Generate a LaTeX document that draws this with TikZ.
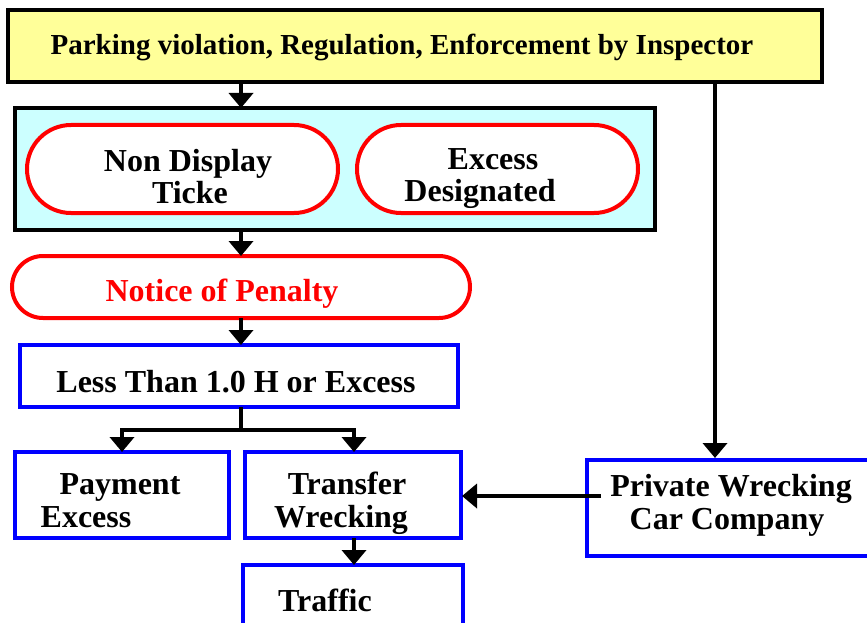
\documentclass[tikz,border=0pt]{standalone}
\usepackage{fontspec}
\setmainfont{Liberation Serif}
\usetikzlibrary{arrows.meta}
\definecolor{paleyellow}{RGB}{255,255,153}
\definecolor{palecyan}{RGB}{204,255,255}
\definecolor{boxblue}{RGB}{0,0,255}
\definecolor{boxred}{RGB}{255,0,0}
\tikzset{
  flow/.style={line width=4pt,-{Triangle[width=24pt,length=15pt]}},
  plain/.style={line width=4pt},
  bluebox/.style={draw=boxblue,line width=4.5pt,fill=white},
  redpill/.style={draw=boxred,line width=4pt,fill=white},
  lbl/.style={inner sep=0pt,anchor=base,font=\bfseries\fontsize{32}{36}\selectfont},
}
\begin{document}
\begin{tikzpicture}[x=1pt,y=-1pt]
\useasboundingbox (0,0) rectangle (867,623);

% top: enforcement
\draw[line width=3.5pt,fill=paleyellow] (8,10) rectangle (822,82);
\coordinate (topL) at (241,82);
\coordinate (topR) at (715,82);
\node[lbl,font=\bfseries\fontsize{29}{32}\selectfont] (top) at (402,55)
  {Parking violation, Regulation, Enforcement by Inspector};

% group of the two violation kinds
\draw[line width=4.5pt,fill=palecyan] (15,108) rectangle (655,230);
\coordinate (grpT) at (241,108);
\coordinate (grpB) at (241,230);
\draw[redpill,rounded corners=44pt] (27,125) rectangle (338,213);
\draw[redpill,rounded corners=44pt] (357,125) rectangle (638,213);
\node[lbl] (nd1) at (188,171) {Non Display};
\node[lbl] (nd2) at (190,203) {Ticke};
\node[lbl] (ex1) at (493,169) {Excess};
\node[lbl] (ex2) at (480,201) {Designated};

% notice of penalty
\draw[redpill,rounded corners=31pt] (12,256) rectangle (470,318);
\coordinate (npT) at (241,256);
\coordinate (npB) at (241,318);
\node[lbl,text=boxred] (np) at (222,301) {Notice of Penalty};

% less than 1.0 H
\draw[bluebox] (20,345) rectangle (458,407);
\coordinate (ltT) at (241,345);
\coordinate (ltB) at (241,407);
\node[lbl] (lt) at (236,392) {Less Than 1.0 H or Excess};

% branches
\draw[bluebox] (15,452) rectangle (229,538);
\node[lbl] (pay1) at (120,494) {Payment};
\node[lbl] (pay2) at (86,527) {Excess};
\draw[bluebox] (245,452) rectangle (461,538);
\node[lbl] (tr1) at (347,494) {Transfer};
\node[lbl] (tr2) at (341,527) {Wrecking};
\draw[bluebox] (243,565) rectangle (463,650);
\node[lbl] (tf) at (325,611) {Traffic};
\draw[bluebox] (587,460) rectangle (900,556);
\node[lbl] (pw1) at (731,496) {Private Wrecking};
\node[lbl] (pw2) at (727,529) {Car Company};

\coordinate (split) at (241,430);
\coordinate (payT) at (122,452);
\coordinate (trT) at (354,452);
\coordinate (trB) at (354,538);
\coordinate (tfT) at (354,565);
\coordinate (pwT) at (715,458);
\coordinate (pwL) at (601,496);
\coordinate (trR) at (462,496);

% connectors
\draw[flow] (topL) -- (grpT);
\draw[flow] (grpB) -- (npT);
\draw[flow] (npB) -- (ltT);
\draw[plain] (ltB) -- (split);
\draw[flow] (split) -| (payT);
\draw[flow] (split) -| (trT);
\draw[flow] (trB) -- (tfT);
\draw[flow] (topR) -- (pwT);
\draw[flow] (pwL) -- (trR);
\end{tikzpicture}
\end{document}
